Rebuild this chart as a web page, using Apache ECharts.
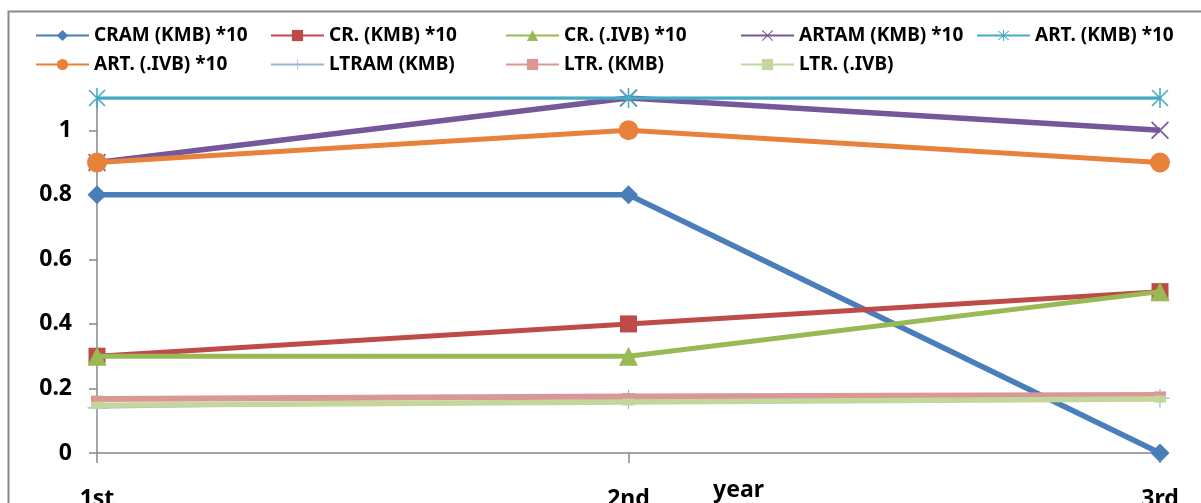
<!DOCTYPE html>
<html>
<head>
<meta charset="utf-8">
<script src="https://cdn.jsdelivr.net/npm/echarts@6/dist/echarts.min.js"></script>
<style>
  html, body { margin: 0; padding: 0; background: #fff; }
  #chart { width: 1201px; height: 503px; }
</style>
</head>
<body>
<div id="chart"></div>
<script>
// data
const years = ['1st', '2nd', '3rd']
const yTicks = [0, 0.2, 0.4, 0.6, 0.8, 1]

const cramKmb = [0.8, 0.8, 0]
const crKmb = [0.3, 0.4, 0.5]
const crIvb = [0.3, 0.3, 0.5]
const artamKmb = [0.9, 1.1, 1.0]
const artKmb = [1.1, 1.1, 1.1]
const artIvb = [0.9, 1.0, 0.9]
const ltramKmb = [0.14, 0.166, 0.17]
const ltrKmb = [0.167, 0.175, 0.18]
const ltrIvb = [0.148, 0.158, 0.167]

// marker shapes
const xMark = 'path://M-7.43,-8.57 L8.57,7.43 L7.43,8.57 L-8.57,-7.43 Z M7.43,-8.57 L8.57,-7.43 L-7.43,8.57 L-8.57,7.43 Z'
const starMark = 'path://M-0.8,-10 L0.8,-10 L0.8,10 L-0.8,10 Z M-7.43,-8.57 L8.57,7.43 L7.43,8.57 L-8.57,-7.43 Z M7.43,-8.57 L8.57,-7.43 L-7.43,8.57 L-8.57,7.43 Z'
const plusMark = 'path://M-0.6,-10 L0.6,-10 L0.6,10 L-0.6,10 Z M-10,-0.6 L10,-0.6 L10,0.6 L-10,0.6 Z'

const font = '"Noto Sans", "Open Sans", sans-serif'

const seriesDefs = [
    {name: 'CRAM (KMB) *10', data: cramKmb, color: '#4A7EBB', width: 5.5, symbol: 'diamond', size: 19},
    {name: 'CR. (KMB) *10', data: crKmb, color: '#BE4B48', width: 5, symbol: 'rect', size: 17},
    {name: 'CR. (.IVB) *10', data: crIvb, color: '#98B954', width: 5, symbol: 'triangle', size: 19},
    {name: 'ARTAM (KMB) *10', data: artamKmb, color: '#74589A', width: 5.5, symbol: xMark, size: 18},
    {name: 'ART. (KMB) *10', data: artKmb, color: '#46AAC5', width: 3.5, symbol: starMark, size: 20},
    {name: 'ART. (.IVB) *10', data: artIvb, color: '#E8823A', width: 5, symbol: 'circle', size: 20},
    {name: 'LTRAM (KMB)', data: ltramKmb, color: '#95B3D7', width: 2, symbol: plusMark, size: 19},
    {name: 'LTR. (KMB)', data: ltrKmb, color: '#D99795', width: 6, symbol: 'rect', size: [12, 7]},
    {name: 'LTR. (.IVB)', data: ltrIvb, color: '#C3D69B', width: 5.5, symbol: 'rect', size: [12, 7]},
]

// legend slots: Excel puts them in a grid, 235px per column
const legendCols = [35, 270, 505, 740, 976]
const legendRows = [26, 55]

const chart = echarts.init(document.getElementById('chart'))
chart.setOption({
    animation: false,
    backgroundColor: '#fff',
    graphic: [
        {
            type: 'rect',
            shape: {x: 8.5, y: 11.5, width: 1400, height: 700},
            style: {fill: 'none', stroke: '#888', lineWidth: 2},
            silent: true,
            z: -1,
        },
    ],
    legend: seriesDefs.map((s, i) => ({
        data: [s.name],
        left: legendCols[i % 5],
        top: legendRows[Math.floor(i / 5)],
        padding: 0,
        itemWidth: 53,
        itemHeight: 14,
        textStyle: {color: '#000', fontSize: 19, fontWeight: 'bold', fontFamily: font},
    })),
    grid: {left: 97, right: 41, top: 98, bottom: 50, outerBoundsMode: 'none', containLabel: false},
    xAxis: {
        type: 'category',
        data: years,
        boundaryGap: false,
        name: 'year',
        nameLocation: 'middle',
        nameGap: 26,
        nameMoveOverlap: false,
        nameTextStyle: {color: '#000', fontSize: 23, fontWeight: 'bold', fontFamily: font, padding: [0, 0, 0, 220]},
        axisLine: {lineStyle: {color: '#868686', width: 1.5}},
        axisTick: {length: 10, lineStyle: {color: '#868686', width: 1.5}},
        axisLabel: {color: '#000', fontSize: 23, fontWeight: 'bold', fontFamily: font, margin: 35},
        splitLine: {show: false},
    },
    yAxis: {
        type: 'value',
        min: 0,
        max: 1.1,
        interval: 0.2,
        axisLine: {show: true, lineStyle: {color: '#868686', width: 1.5}},
        axisTick: {show: true, length: 8, customValues: yTicks, lineStyle: {color: '#868686', width: 1.5}},
        axisLabel: {color: '#000', fontSize: 23, fontWeight: 'bold', fontFamily: font, margin: 25, customValues: yTicks},
        splitLine: {show: false},
    },
    series: seriesDefs.map((s, i) => ({
        name: s.name,
        type: 'line',
        data: s.data,
        symbol: s.symbol,
        symbolSize: s.size,
        symbolKeepAspect: true,
        showAllSymbol: true,
        lineStyle: {color: s.color, width: s.width},
        itemStyle: {color: s.color, borderWidth: 0},
        z: 2 + i,
    })),
})
</script>
</body>
</html>
